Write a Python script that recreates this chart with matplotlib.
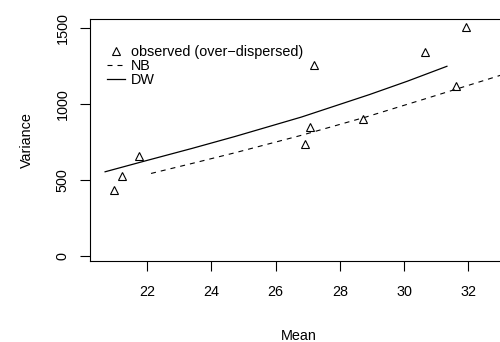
import matplotlib
matplotlib.use("Agg")
import matplotlib.pyplot as plt

plt.rcParams['font.family'] = ['Liberation Sans', 'DejaVu Sans']

# --- observed means and variances ---
obs_mean = [20.96, 21.21, 21.75, 26.90, 27.06, 27.19, 28.72, 30.65, 31.62, 31.91]
obs_var = [430, 526, 653, 736, 846, 1253, 900, 1340, 1117, 1505]

# --- fitted variance curves ---
nb_mean = [22.12, 23.40, 24.73, 26.80, 28.82, 30.70, 32.61, 33.00]
nb_var = [541, 607, 677, 792, 913, 1035, 1161, 1187]
dw_mean = [20.69, 22.00, 23.40, 24.73, 26.80, 28.92, 30.10, 31.33]
dw_var = [552, 627, 706, 784, 912, 1060, 1148, 1246]

x_ticks = [22, 24, 26, 28, 30, 32]
y_ticks = [0, 500, 1000, 1500]

fig = plt.figure(figsize=(5.0, 3.42), dpi=100)
ax = fig.add_axes([0.18, 0.2377, 0.834, 0.7067])

ax.plot(obs_mean, obs_var, linestyle='none', marker='^', ms=6,
        mfc='none', mec='black', mew=0.8, label='observed (over\u2212dispersed)')
ax.plot(nb_mean, nb_var, color='black', lw=0.8, dashes=(4.5, 4.5), label='NB')
ax.plot(dw_mean, dw_var, color='black', lw=0.9, label='DW')

ax.set_xlim(20.22, 33.2)
ax.set_ylim(-33, 1557)
ax.set_xticks(x_ticks)
ax.set_yticks(y_ticks)
ax.tick_params(axis='both', direction='out', length=7.5, width=0.8,
               labelsize=10.4, pad=10)
ax.tick_params(axis='y', pad=7)
for lab in ax.get_yticklabels():
    lab.set_rotation(90)
    lab.set_va('center')

ax.spines['right'].set_visible(False)
for s in ['left', 'bottom', 'top']:
    ax.spines[s].set_linewidth(0.8)

ax.set_xlabel('Mean', fontsize=10.4, labelpad=21.5)
ax.set_ylabel('Variance', fontsize=10.4, labelpad=16)

ax.legend(loc='upper left', bbox_to_anchor=(0.214, 0.868),
          bbox_transform=fig.transFigure, frameon=False, fontsize=10.4,
          borderpad=0, borderaxespad=0, labelspacing=0.0,
          handlelength=1.25, handletextpad=0.4)

fig.savefig('out.png', dpi=100)
